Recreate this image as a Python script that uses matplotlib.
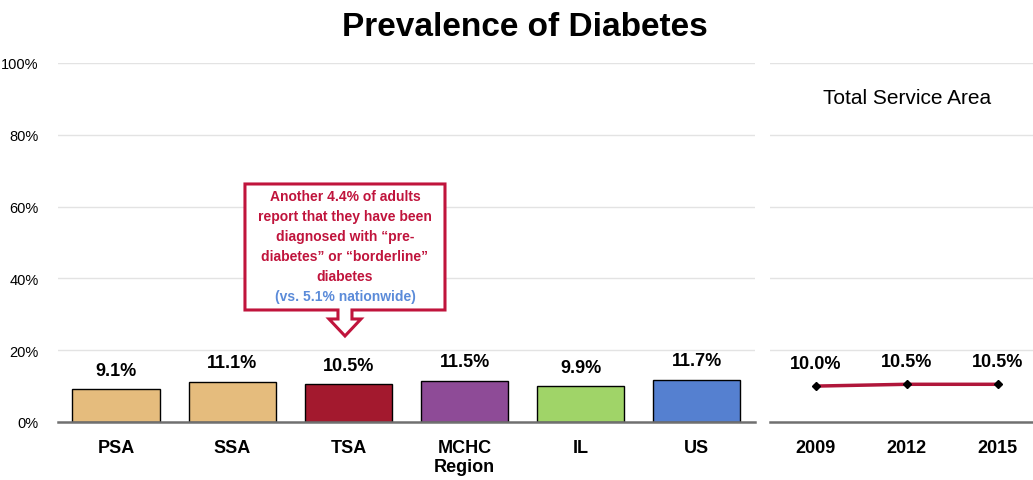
import numpy as np
import matplotlib.pyplot as plt
from matplotlib.patches import Polygon
from matplotlib.ticker import PercentFormatter
from matplotlib import font_manager

names = {f.name for f in font_manager.fontManager.ttflist}
NARROW = 'Liberation Sans Narrow' if 'Liberation Sans Narrow' in names else 'Liberation Sans'
plt.rcParams['font.family'] = [NARROW, 'DejaVu Sans']

# data
regions = ['PSA', 'SSA', 'TSA', 'MCHC\nRegion', 'IL', 'US']
prevalence = [9.1, 11.1, 10.5, 11.5, 9.9, 11.7]
bar_colors = ['#E5BC7D', '#E5BC7D', '#A3192E', '#8E4B97', '#A0D468', '#5580D0']
years = ['2009', '2012', '2015']
tsa_trend = [10.0, 10.5, 10.5]

RED = '#C0143C'
BLUE = '#5B8BD9'
GRID = '#E3E3E3'

fig = plt.figure(figsize=(10.33, 4.81), dpi=100)
ax = fig.add_axes([0.0561, 0.1206, 0.6748, 0.7464])
ax2 = fig.add_axes([0.7454, 0.1206, 0.2546, 0.7464])

for a in (ax, ax2):
    a.set_ylim(0, 100)
    a.set_yticks(np.arange(0, 101, 20))
    a.grid(axis='y', color=GRID, lw=1)
    a.set_axisbelow(True)
    for s in ('top', 'right', 'left'):
        a.spines[s].set_visible(False)
    a.spines['bottom'].set_color('#707070')
    a.spines['bottom'].set_linewidth(1.8)
    a.tick_params(length=0)

x = np.arange(len(regions))
ax.bar(x, prevalence, width=0.75, color=bar_colors, edgecolor='black', lw=1)
for xi, v in zip(x, prevalence):
    ax.text(xi, v + 3, f'{v:.1f}%', ha='center', va='bottom',
            fontsize=13, fontweight='bold')
ax.set_xlim(-0.5, len(regions) - 0.5)
ax.set_xticks(x)
ax.set_xticklabels(regions, fontsize=13, fontweight='bold', va='top')
ax.tick_params(axis='x', pad=12)
ax.yaxis.set_major_formatter(PercentFormatter(decimals=0))
ax.tick_params(axis='y', labelsize=10.5, pad=14)

xs = np.arange(len(years))
ax2.plot(xs, tsa_trend, color='#B0163A', lw=2.5, marker='D', ms=4.5,
         mfc='black', mec='black')
for xi, v in zip(xs, tsa_trend):
    ax2.text(xi, v + 4, f'{v:.1f}%', ha='center', va='bottom',
             fontsize=13, fontweight='bold')
ax2.set_xlim(-0.5, 2.39)
ax2.set_xticks(xs)
ax2.set_xticklabels(years, fontsize=13, fontweight='bold')
ax2.tick_params(axis='x', pad=12)
ax2.set_yticklabels([])
ax2.text(0.52, 0.905, 'Total Service Area', transform=ax2.transAxes,
         ha='center', va='center', fontsize=15)

fig.suptitle('Prevalence of Diabetes', x=0.508, y=0.975, va='top',
             fontsize=24, fontweight='bold', family='Liberation Sans')

# callout shape (pixel outline -> data coords of left axes)
def px(xp, yp):
    return ((xp - 58) / 697 * 6 - 0.5, (423 - yp) / 359 * 100)

outline = [(245, 185), (445, 185), (445, 311), (352, 311), (352, 320),
           (361, 320), (345, 337), (329, 320), (338, 320), (338, 311),
           (245, 311)]
ax.add_patch(Polygon([px(*p) for p in outline], closed=True, fc='white',
                     ec=RED, lw=2.2, zorder=5, clip_on=False))
cx = px(345, 0)[0]
lines = ['Another 4.4% of adults', 'report that they have been',
         'diagnosed with \u201cpre-', 'diabetes\u201d or \u201cborderline\u201d',
         'diabetes']
for i, t in enumerate(lines):
    ax.text(cx, px(0, 197 + i * 20)[1], t, ha='center', va='center',
            fontsize=10, fontweight='bold', color=RED, zorder=6)
ax.text(cx, px(0, 297)[1], '(vs. 5.1% nationwide)', ha='center', va='center',
        fontsize=10, fontweight='bold', color=BLUE, zorder=6)

fig.savefig('out.png', dpi=100)
